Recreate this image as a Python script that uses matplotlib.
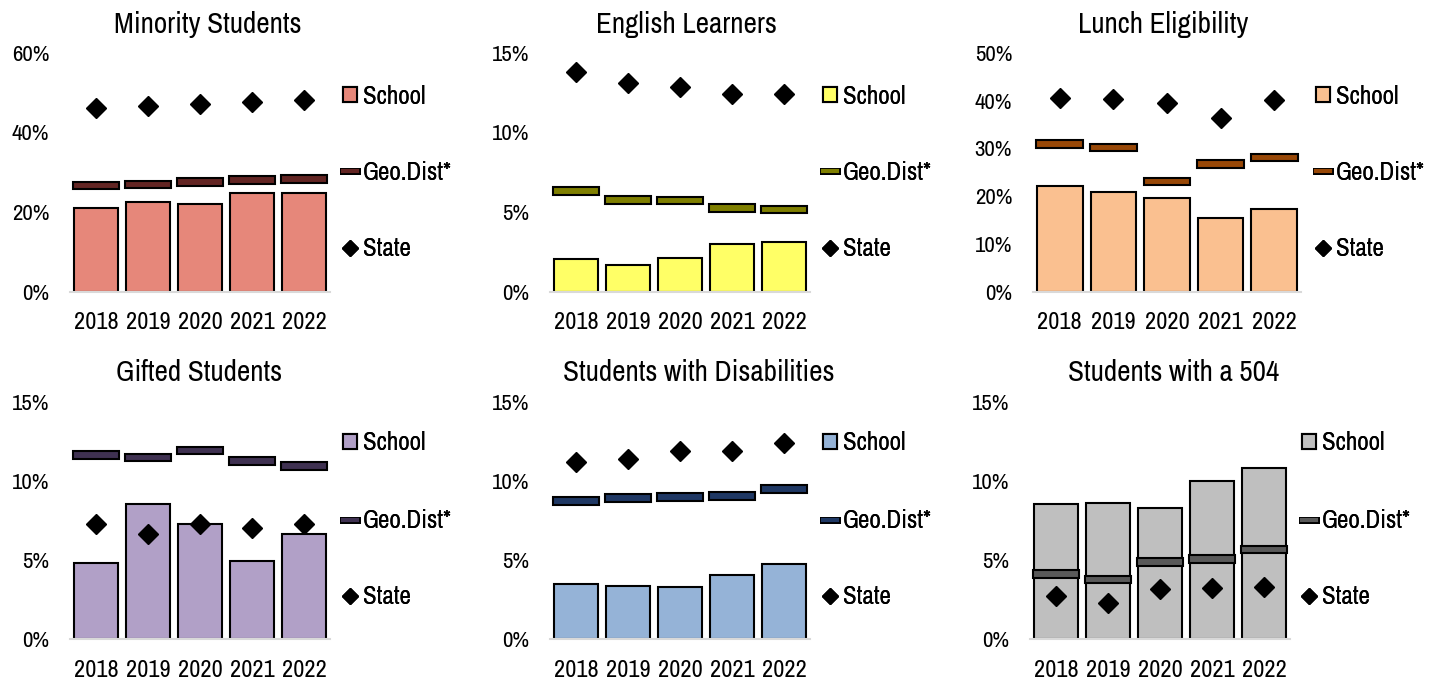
import matplotlib
matplotlib.use("Agg")
import matplotlib.pyplot as plt
import matplotlib.patheffects as pe
from matplotlib import font_manager
from matplotlib.lines import Line2D
from matplotlib.patches import Patch
import numpy as np

# 글꼴: 좁은 글꼴이 있으면 사용
names = {f.name for f in font_manager.fontManager.ttflist}
for fam in ["Archivo Narrow", "Roboto Condensed", "PT Sans Narrow", "Liberation Sans"]:
    if fam in names:
        plt.rcParams["font.family"] = fam
        break

years = ["2018", "2019", "2020", "2021", "2022"]

titles = ["Minority Students", "English Learners", "Lunch Eligibility",
          "Gifted Students", "Students with Disabilities", "Students with a 504"]

school = [
    [21.1, 22.4, 21.9, 24.7, 24.8],
    [2.07, 1.69, 2.10, 3.00, 3.10],
    [22.1, 20.8, 19.5, 15.4, 17.2],
    [4.84, 8.56, 7.27, 4.96, 6.65],
    [3.47, 3.38, 3.30, 4.08, 4.73],
    [8.55, 8.60, 8.30, 9.99, 10.82],
]
geo_dist = [
    [26.7, 26.9, 27.6, 28.0, 28.3],
    [6.31, 5.76, 5.72, 5.25, 5.15],
    [30.9, 30.2, 23.1, 26.7, 28.1],
    [11.64, 11.49, 11.93, 11.26, 10.96],
    [8.72, 8.91, 9.00, 9.06, 9.49],
    [4.10, 3.78, 4.88, 5.07, 5.68],
]
state = [
    [46.2, 46.7, 47.1, 47.7, 48.3],
    [13.8, 13.1, 12.85, 12.4, 12.45],
    [40.6, 40.4, 39.6, 36.4, 40.2],
    [7.27, 6.63, 7.31, 7.01, 7.29],
    [11.20, 11.41, 11.90, 11.93, 12.42],
    [2.73, 2.30, 3.19, 3.25, 3.31],
]
y_max = [60, 15, 50, 15, 15, 15]
y_step = [20, 5, 10, 5, 5, 5]

school_colors = ["#E6877A", "#FFFF66", "#FAC090", "#B1A0C7", "#95B3D7", "#BFBFBF"]
geo_colors = ["#632523", "#7F7F00", "#984807", "#3F3151", "#1F3864", "#595959"]

W, H = 1435, 681
fig = plt.figure(figsize=(W / 100, H / 100), dpi=100)

# 축 위치 (픽셀: 왼쪽, 오른쪽, 위, 아래)
boxes = [
    (70, 330, 53, 291.5), (550, 810, 53, 291.5), (1033, 1301, 53, 291.5),
    (70, 330, 402, 639), (550, 810, 402, 639), (1030, 1290, 402, 639),
]
title_pos = [(208, 33), (686, 33), (1163, 33), (199, 381), (699, 381), (1174, 381)]
legend_x = [343, 823, 1316, 343, 823, 1302]
legend_y = [(96, 172, 249), (96, 172, 249), (96, 172, 249),
            (443, 521, 597), (443, 521, 597), (443, 521, 597)]

for i in range(6):
    l, r, t, b = boxes[i]
    ax = fig.add_axes([l / W, 1 - b / H, (r - l) / W, (b - t) / H])
    x = np.arange(len(years))

    ax.bar(x, school[i], width=0.85, color=school_colors[i], edgecolor="black",
           linewidth=1.5, zorder=2)
    thick = y_max[i] * 7.5 / (b - t)
    ax.bar(x, [thick] * len(years), bottom=np.array(geo_dist[i]) - thick / 2,
           width=0.87, color=geo_colors[i], edgecolor="black", linewidth=1.5, zorder=3)
    ax.plot(x, state[i], linestyle="none", marker="D", markersize=10,
            color="black", zorder=4)

    ax.set_xlim(-0.5, len(years) - 0.5)
    ax.set_ylim(0, y_max[i])
    ticks = np.arange(0, y_max[i] + 0.01, y_step[i])
    ax.set_yticks(ticks)
    ax.set_yticklabels([f"{int(v)}%" for v in ticks], fontsize=16.5)
    ax.set_xticks(x)
    ax.set_xticklabels(years, fontsize=17.5)
    ax.tick_params(axis="y", length=0, pad=15)
    ax.tick_params(axis="x", length=0, pad=15)
    for s in ["top", "right", "left"]:
        ax.spines[s].set_visible(False)
    ax.spines["bottom"].set_color("#D9D9D9")
    ax.spines["bottom"].set_linewidth(1.5)
    ax.spines["bottom"].set_zorder(5)
    ax.patch.set_alpha(0)

    tx, ty = title_pos[i]
    fig.text(tx / W, 1 - ty / H, titles[i], fontsize=21, ha="center", va="baseline")

    # 범례
    lx = legend_x[i]
    ys = legend_y[i]
    handles = [
        Patch(facecolor=school_colors[i], edgecolor="black", linewidth=1.5),
        Line2D([], [], color=geo_colors[i], linewidth=3,
               path_effects=[pe.Stroke(linewidth=5, foreground="black"), pe.Normal()]),
        Line2D([], [], linestyle="none", marker="D", markersize=8, color="black"),
    ]
    labels = ["School", "Geo.Dist*", "State"]
    for h_, lab, yy in zip(handles, labels, ys):
        leg = fig.legend([h_], [lab], loc="center left",
                         bbox_to_anchor=(lx / W, 1 - yy / H),
                         frameon=False, fontsize=18, handlelength=0.55,
                         handleheight=0.55, handletextpad=0.25,
                         borderpad=0, borderaxespad=0)
        fig.add_artist(leg)

fig.savefig("out.png", dpi=100)
